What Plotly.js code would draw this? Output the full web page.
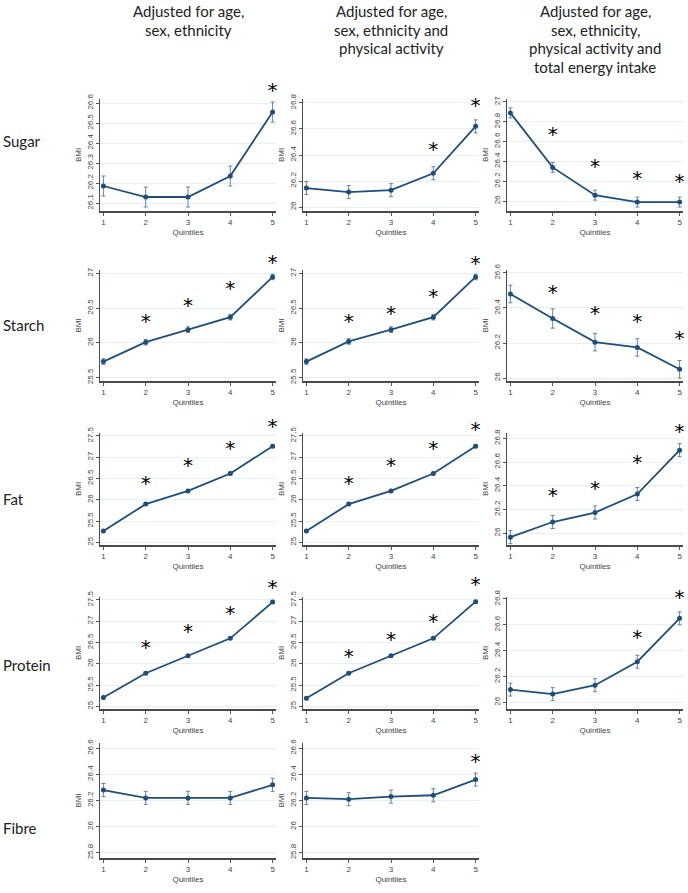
<!DOCTYPE html>
<html>
<head>
<meta charset="utf-8">
<script src="https://cdn.plot.ly/plotly-3.0.1.min.js"></script>
<style>html,body{margin:0;padding:0;background:#fff;}#chart{width:688px;height:893px;}</style>
</head>
<body>
<div id="chart"></div>
<script>
// ---------- DATA ----------
const quintiles = [1, 2, 3, 4, 5];
const columnTitles = [
  ["Adjusted for age,", "sex, ethnicity"],
  ["Adjusted for age,", "sex, ethnicity and", "physical activity"],
  ["Adjusted for age,", "sex, ethnicity,", "physical activity and", "total energy intake"]
];
const rowLabels = ["Sugar", "Starch", "Fat", "Protein", "Fibre"];

// BMI means by quintile (m1: age/sex/ethnicity, m2: + physical activity, m3: + energy intake)
const sugar_m1 = [26.185, 26.13, 26.13, 26.235, 26.555];
const sugar_m2 = [26.146, 26.115, 26.13, 26.26, 26.62];
const sugar_m3 = [26.89, 26.34, 26.06, 25.99, 25.99];
const starch_m1 = [25.73, 26.01, 26.19, 26.37, 26.95];
const starch_m2 = [25.73, 26.02, 26.19, 26.37, 26.95];
const starch_m3 = [26.48, 26.34, 26.205, 26.175, 26.05];
const fat_m1 = [25.27, 25.90, 26.21, 26.62, 27.26];
const fat_m2 = [25.27, 25.90, 26.21, 26.62, 27.26];
const fat_m3 = [25.966, 26.094, 26.174, 26.33, 26.70];
const protein_m1 = [25.21, 25.78, 26.19, 26.60, 27.45];
const protein_m2 = [25.19, 25.78, 26.19, 26.60, 27.46];
const protein_m3 = [26.10, 26.065, 26.134, 26.315, 26.65];
const fibre_m1 = [26.28, 26.22, 26.22, 26.22, 26.32];
const fibre_m2 = [26.22, 26.21, 26.23, 26.24, 26.36];

// 95% CI half-widths
const sugar_m1_ci = [0.05, 0.05, 0.05, 0.05, 0.05];
const sugar_m2_ci = [0.05, 0.05, 0.05, 0.05, 0.05];
const sugar_m3_ci = [0.05, 0.05, 0.05, 0.05, 0.05];
const starch_m1_ci = [0.04, 0.04, 0.04, 0.04, 0.04];
const starch_m2_ci = [0.04, 0.04, 0.04, 0.04, 0.04];
const starch_m3_ci = [0.05, 0.055, 0.05, 0.05, 0.05];
const fat_m1_ci = [0.03, 0.03, 0.03, 0.03, 0.03];
const fat_m2_ci = [0.03, 0.03, 0.03, 0.03, 0.03];
const fat_m3_ci = [0.055, 0.055, 0.055, 0.055, 0.055];
const protein_m1_ci = [0.03, 0.03, 0.03, 0.03, 0.03];
const protein_m2_ci = [0.03, 0.03, 0.03, 0.03, 0.03];
const protein_m3_ci = [0.05, 0.05, 0.05, 0.05, 0.05];
const fibre_m1_ci = [0.05, 0.05, 0.05, 0.05, 0.05];
const fibre_m2_ci = [0.05, 0.05, 0.05, 0.05, 0.05];

// Significance markers (BMI level at which the asterisk sits; null = not significant)
const sugar_m1_sig = [null, null, null, null, 26.675];
const sugar_m2_sig = [null, null, null, 26.46, 26.80];
const sugar_m3_sig = [null, 26.70, 26.37, 26.25, 26.22];
const starch_m1_sig = [null, 26.35, 26.58, 26.82, 27.20];
const starch_m2_sig = [null, 26.35, 26.46, 26.71, 27.18];
const starch_m3_sig = [null, 26.50, 26.38, 26.34, 26.24];
const fat_m1_sig = [null, 26.45, 26.86, 27.26, 27.77];
const fat_m2_sig = [null, 26.45, 26.86, 27.26, 27.72];
const fat_m3_sig = [null, 26.336, 26.40, 26.62, 26.88];
const protein_m1_sig = [null, 26.44, 26.83, 27.24, 27.85];
const protein_m2_sig = [null, 26.24, 26.63, 27.05, 27.93];
const protein_m3_sig = [null, null, null, 26.52, 26.83];
const fibre_m1_sig = [null, null, null, null, null];
const fibre_m2_sig = [null, null, null, null, 26.52];

// ---------- LAYOUT ----------
const W = 688, H = 893;
const colPx = [[100, 276], [303, 479], [507, 683]];
const rowPx = [[99, 211], [270, 381], [433, 545], [597, 709], [743, 858]];
const rowLabelY = [141, 325, 499, 665, 828];
const titleLineY = [11, 29.5, 48, 66.5];
const EXT = 40;      // extra headroom (px) for the asterisk overlay axes
const GLYPH_DY = 4;  // the '*' glyph sits high in its text box; compensate (px)

const panels = [
  {r:0,c:0,y:sugar_m1,e:sugar_m1_ci,s:sugar_m1_sig,range:[26.06,26.62],dtick:0.1},
  {r:0,c:1,y:sugar_m2,e:sugar_m2_ci,s:sugar_m2_sig,range:[25.97,26.83],dtick:0.2},
  {r:0,c:2,y:sugar_m3,e:sugar_m3_ci,s:sugar_m3_sig,range:[25.9,27.03],dtick:0.2},
  {r:1,c:0,y:starch_m1,e:starch_m1_ci,s:starch_m1_sig,range:[25.45,27.05],dtick:0.5},
  {r:1,c:1,y:starch_m2,e:starch_m2_ci,s:starch_m2_sig,range:[25.45,27.05],dtick:0.5},
  {r:1,c:2,y:starch_m3,e:starch_m3_ci,s:starch_m3_sig,range:[25.983,26.617],dtick:0.2},
  {r:2,c:0,y:fat_m1,e:fat_m1_ci,s:fat_m1_sig,range:[24.94,27.57],dtick:0.5},
  {r:2,c:1,y:fat_m2,e:fat_m2_ci,s:fat_m2_sig,range:[24.94,27.57],dtick:0.5},
  {r:2,c:2,y:fat_m3,e:fat_m3_ci,s:fat_m3_sig,range:[25.9,26.845],dtick:0.2},
  {r:3,c:0,y:protein_m1,e:protein_m1_ci,s:protein_m1_sig,range:[24.94,27.57],dtick:0.5},
  {r:3,c:1,y:protein_m2,e:protein_m2_ci,s:protein_m2_sig,range:[24.94,27.57],dtick:0.5},
  {r:3,c:2,y:protein_m3,e:protein_m3_ci,s:protein_m3_sig,range:[25.95,26.815],dtick:0.2},
  {r:4,c:0,y:fibre_m1,e:fibre_m1_ci,s:fibre_m1_sig,range:[25.76,26.64],dtick:0.2},
  {r:4,c:1,y:fibre_m2,e:fibre_m2_ci,s:fibre_m2_sig,range:[25.76,26.64],dtick:0.2}
];

const lineColor = '#1f4e79';
const errColor = '#5a86b0';
function tickFont() { return {family: 'Liberation Sans, Arial, sans-serif', size: 8, color: '#444'}; }
function textFont(sz) { return {family: 'Lato, Open Sans, sans-serif', size: sz, color: '#222'}; }

const data = [];
const layout = {
  width: W, height: H, autosize: false,
  margin: {l: 0, r: 0, t: 0, b: 0},
  paper_bgcolor: '#fff', plot_bgcolor: 'rgba(0,0,0,0)',
  showlegend: false,
  annotations: []
};
const NP = panels.length;

panels.forEach((p, i) => {
  const n = i + 1;
  const xa = 'x' + (n === 1 ? '' : n), ya = 'y' + (n === 1 ? '' : n);
  const xk = 'xaxis' + (n === 1 ? '' : n), yk = 'yaxis' + (n === 1 ? '' : n);
  const sN = NP + n, sa = 'y' + sN, sk = 'yaxis' + sN;
  const [x0, x1] = colPx[p.c];
  const [t0, b0] = rowPx[p.r];
  layout[xk] = {
    domain: [x0 / W, x1 / W], anchor: ya,
    range: [0.92, 5.08], tickvals: quintiles, ticktext: quintiles.map(String),
    ticks: 'outside', ticklen: 3, tickwidth: 1, tickcolor: '#555',
    showline: true, linecolor: '#4a4a4a', linewidth: 1.6,
    showgrid: false, zeroline: false, fixedrange: true,
    tickfont: tickFont(),
    title: {text: 'Quintiles', font: tickFont(), standoff: 3}
  };
  layout[yk] = {
    domain: [1 - b0 / H, 1 - t0 / H], anchor: xa,
    range: p.range, dtick: p.dtick, tick0: 0,
    ticks: 'outside', ticklen: 3, tickwidth: 1, tickcolor: '#555',
    tickangle: -90,
    showline: true, linecolor: '#4a4a4a', linewidth: 1.2,
    showgrid: true, gridcolor: '#e6eff2', gridwidth: 1, zeroline: false, fixedrange: true,
    tickfont: tickFont(),
    title: {text: 'BMI', font: tickFont(), standoff: 2}
  };
  // invisible overlay axis with identical scale but extra headroom, for the asterisks
  const upp = (p.range[1] - p.range[0]) / (b0 - t0);
  const d = GLYPH_DY * upp;
  layout[sk] = {
    domain: [1 - b0 / H, 1 - (t0 - EXT) / H], anchor: xa,
    range: [p.range[0] + d, p.range[1] + EXT * upp + d],
    visible: false, fixedrange: true, showgrid: false, zeroline: false
  };
  data.push({
    type: 'scatter', mode: 'lines+markers', x: quintiles, y: p.y,
    xaxis: xa, yaxis: ya, cliponaxis: false,
    line: {color: lineColor, width: 1.8},
    marker: {color: lineColor, size: 5},
    error_y: {type: 'data', array: p.e, visible: true, color: errColor, thickness: 1, width: 2}
  });
  data.push({
    type: 'scatter', mode: 'text', x: quintiles, y: p.s,
    xaxis: xa, yaxis: sa, cliponaxis: false,
    text: p.s.map(v => v === null ? '' : '*'),
    textposition: 'middle center',
    textfont: {family: 'DejaVu Sans, sans-serif', size: 20, color: '#000'},
    hoverinfo: 'skip'
  });
});

columnTitles.forEach((lines, c) => {
  lines.forEach((t, k) => {
    layout.annotations.push({
      xref: 'paper', yref: 'paper', x: (colPx[c][0] + colPx[c][1]) / 2 / W, y: 1 - titleLineY[k] / H,
      text: t, showarrow: false, xanchor: 'center', yanchor: 'middle',
      font: textFont(15)
    });
  });
});
rowLabels.forEach((t, r) => {
  layout.annotations.push({
    xref: 'paper', yref: 'paper', x: 1 / W, y: 1 - rowLabelY[r] / H,
    text: t, showarrow: false, xanchor: 'left', yanchor: 'middle',
    font: textFont(15)
  });
});

Plotly.newPlot('chart', data, layout, {displayModeBar: false, staticPlot: true});
</script>
</body>
</html>
